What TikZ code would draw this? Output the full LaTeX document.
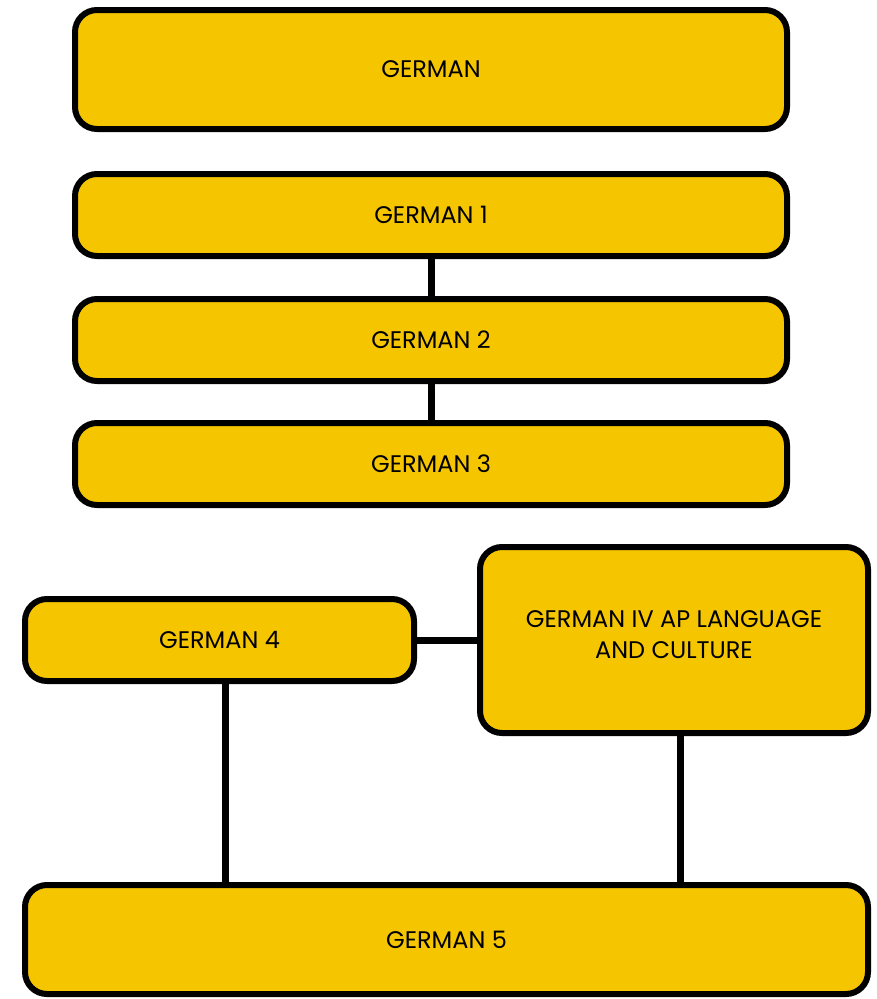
\documentclass[tikz,border=0pt]{standalone}
\usepackage{fontspec}
\setmainfont{Poppins}
\usetikzlibrary{positioning}
\definecolor{gold}{HTML}{F5C600}

\begin{document}
\begin{tikzpicture}[x=1pt, y=-1pt, node distance=42pt, line/.style={line width=7pt}, box/.style={rectangle,draw,line width=6pt,fill=gold,rounded corners=22pt,outer sep=0pt,inner sep=4pt,align=center,font=\fontsize{24}{31}\selectfont}]
\useasboundingbox[fill=white] (0,0) rectangle (877,999);
\node[box,minimum width=712pt,minimum height=119pt] (german) at (431,69.5) {GERMAN};
\node[box,minimum width=712pt,minimum height=82pt,below=45pt of german] (g1) {GERMAN 1};
\node[box,minimum width=712pt,minimum height=82pt,below=43pt of g1] (g2) {GERMAN 2};
\node[box,minimum width=712pt,minimum height=82pt,below=42pt of g2] (g3) {GERMAN 3};
\node[box,minimum width=389pt,minimum height=82pt] (g4) at (219.5,640) {GERMAN 4};
\node[box,minimum width=388pt,minimum height=186pt,text depth=10pt] (ap) at (674,640) {GERMAN IV AP LANGUAGE\\AND CULTURE};
\node[box,minimum width=843pt,minimum height=109pt] (g5) at (446.5,939.5) {GERMAN 5};
\draw[line] (g1) -- (g2);
\draw[line] (g2) -- (g3);
\draw[line] (g4) -- (ap);
\draw[line] ([xshift=6pt]g4.south) -- ([xshift=6pt]g4.south |- g5.north);
\draw[line] ([xshift=6pt]ap.south) -- ([xshift=6pt]ap.south |- g5.north);
\end{tikzpicture}
\end{document}
